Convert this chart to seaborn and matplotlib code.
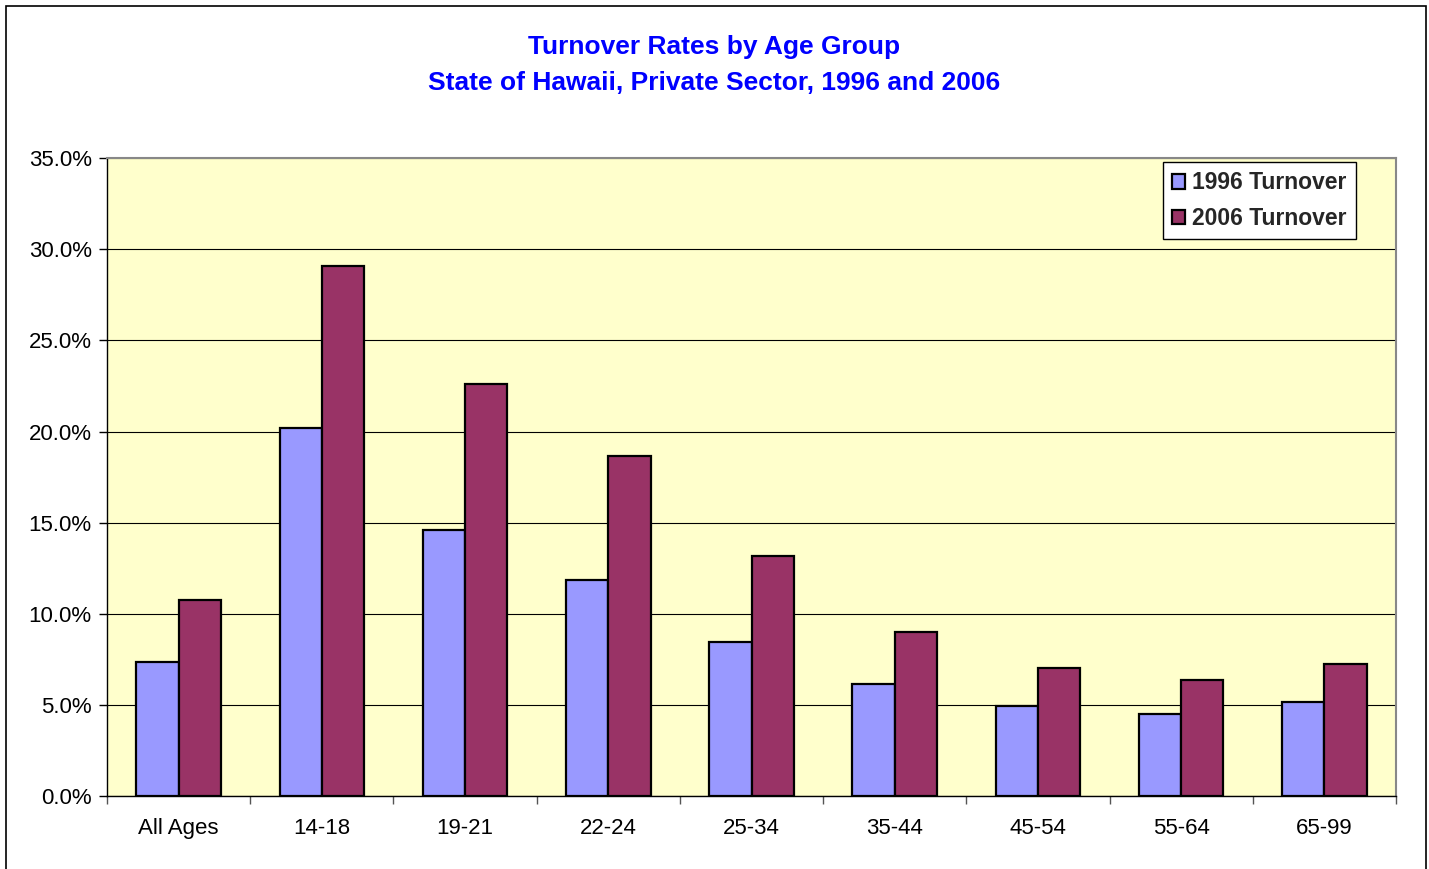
import numpy as np
import pandas as pd
import seaborn as sns
import matplotlib.pyplot as plt
from matplotlib.patches import Rectangle
from matplotlib.ticker import PercentFormatter

# values (percent)
age_groups = ['All Ages', '14-18', '19-21', '22-24', '25-34', '35-44', '45-54', '55-64', '65-99']
turnover_1996 = [7.35, 20.2, 14.6, 11.85, 8.45, 6.15, 4.95, 4.5, 5.15]
turnover_2006 = [10.75, 29.1, 22.6, 18.65, 13.15, 9.0, 7.0, 6.35, 7.25]
series_names = ['1996 Turnover', '2006 Turnover']

df = pd.DataFrame({
    'age': age_groups * 2,
    'series': [series_names[0]] * len(age_groups) + [series_names[1]] * len(age_groups),
    'rate': turnover_1996 + turnover_2006,
})

sns.set_theme(style='white')
plt.rcParams['font.family'] = ['Liberation Sans', 'DejaVu Sans']

fig = plt.figure(figsize=(14.29, 8.69), dpi=100)
ax = fig.add_axes([0.0749, 0.084, 0.902, 0.734])

sns.barplot(data=df, x='age', y='rate', hue='series', order=age_groups,
            hue_order=series_names, palette=['#9999FF', '#993366'],
            width=0.59, gap=0, edgecolor='black', linewidth=1.6,
            saturation=1, ax=ax, zorder=3)

ax.set_facecolor('#FFFFCC')
ax.set_xlim(-0.5, len(age_groups) - 0.5)
ax.set_ylim(0, 35)
ax.set_yticks(np.arange(0, 35.1, 5))
ax.yaxis.set_major_formatter(PercentFormatter(decimals=1))
ax.grid(axis='y', color='black', linewidth=0.8, zorder=0)
ax.set_axisbelow(True)
ax.set_xlabel('')
ax.set_ylabel('')

# category boundary ticks like the spreadsheet chart
ax.set_xticks(np.arange(-0.5, len(age_groups), 1), minor=True)
ax.tick_params(axis='x', which='major', length=0, labelsize=16, pad=16, colors='black')
ax.tick_params(axis='x', which='minor', length=6, width=1, color='#555555', bottom=True, direction='out')
ax.tick_params(axis='y', which='major', length=6, width=1, color='black', left=True,
               direction='out', labelsize=16, pad=5, labelcolor='black')

for side in ['left', 'bottom']:
    ax.spines[side].set_color('black')
    ax.spines[side].set_linewidth(1.0)
for side in ['top', 'right']:
    ax.spines[side].set_color('#888888')
    ax.spines[side].set_linewidth(1.5)

leg = ax.legend(loc='upper right', bbox_to_anchor=(0.969, 0.9937), frameon=True, fancybox=False,
                edgecolor='black', facecolor='white', framealpha=1,
                prop={'weight': 'bold', 'size': 16.5}, handlelength=0.6, handleheight=0.6,
                handletextpad=0.3, labelspacing=0.55, borderpad=0.4, borderaxespad=0)
leg.get_frame().set_linewidth(1.0)

fig.text(0.5, 1 - 65 / 869, 'Turnover Rates by Age Group\nState of Hawaii, Private Sector, 1996 and 2006',
         ha='center', va='center', color='#0000FF', fontsize=19, fontweight='bold', linespacing=1.6)

# outer chart border
fig.patches.append(Rectangle((6 / 1429, -0.05), 1420 / 1429, 1.05 - 6 / 869, transform=fig.transFigure,
                             fill=False, edgecolor='black', linewidth=1.2))

fig.savefig('out.png', dpi=100)
